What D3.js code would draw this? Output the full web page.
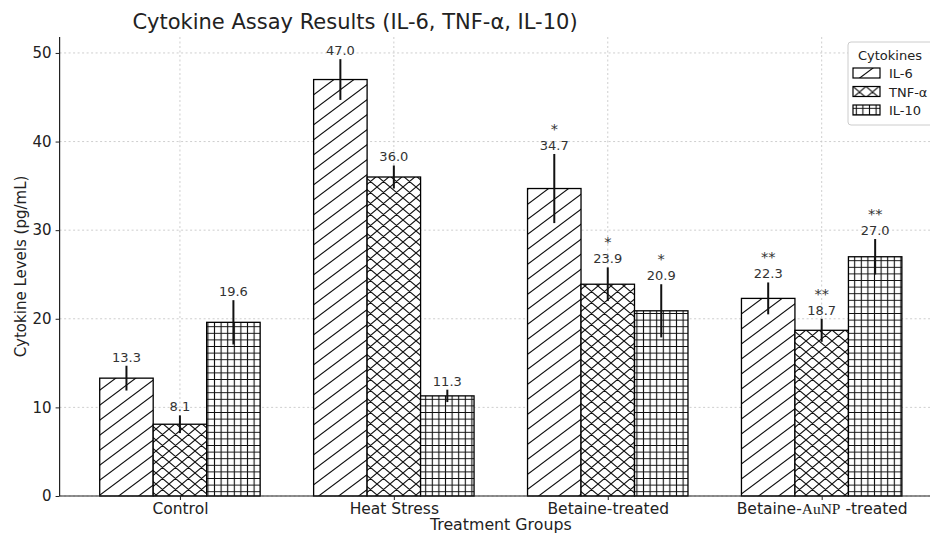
<!DOCTYPE html>
<html>
<head>
<meta charset="utf-8">
<script src="https://cdn.jsdelivr.net/npm/d3@7"></script>
<style>
  body { margin: 0; background: #fff; }
  svg { display: block; font-family: "DejaVu Sans", sans-serif; }
</style>
</head>
<body>
<svg id="chart" width="930" height="533"></svg>
<script>
// ---- Data ----
const categories = ["Control", "Heat Stress", "Betaine-treated", "Betaine-AuNP -treated"];
const seriesNames = ["IL-6", "TNF-α", "IL-10"];
const il6 = [13.3, 47.0, 34.7, 22.3];
const tnf = [8.1, 36.0, 23.9, 18.7];
const il10 = [19.6, 11.3, 20.9, 27.0];
const il6Err = [1.4, 2.3, 3.9, 1.8];
const tnfErr = [1.0, 1.3, 1.9, 1.3];
const il10Err = [2.5, 0.7, 3.0, 2.0];
const il6Sig = ["", "", "*", "**"];
const tnfSig = ["", "", "*", "**"];
const il10Sig = ["", "", "*", "**"];
const yTicks = [0, 10, 20, 30, 40, 50];

const series = [
  { name: seriesNames[0], values: il6, errs: il6Err, sig: il6Sig, pat: "hatch-diag" },
  { name: seriesNames[1], values: tnf, errs: tnfErr, sig: tnfSig, pat: "hatch-x" },
  { name: seriesNames[2], values: il10, errs: il10Err, sig: il10Sig, pat: "hatch-grid" }
];

const svg = d3.select("#chart");
const barW = 0.25;

const x = d3.scaleLinear().domain([-0.5625, 3.5625]).range([59.6, 942]);
const y = d3.scaleLinear().domain([0, 51.8]).range([496, 37]);

// ---- Hatch patterns ----
const defs = svg.append("defs");
const hatchColor = "#111";
function addPattern(id, w, h, d) {
  const p = defs.append("pattern").attr("id", id)
    .attr("patternUnits", "userSpaceOnUse")
    .attr("width", w).attr("height", h);
  p.append("rect").attr("width", w).attr("height", h).attr("fill", "#fff");
  p.append("path").attr("d", d).attr("stroke", hatchColor)
    .attr("stroke-width", 1.1).attr("fill", "none");
}
{
  const w = 20, h = 15;
  addPattern("hatch-diag", w, h,
    `M0,${h} L${w},0 M${-w/2},${h/2} L${w/2},${-h/2} M${w/2},${1.5*h} L${1.5*w},${h/2}`);
}
{
  const w = 13, h = 11;
  addPattern("hatch-x", w, h,
    `M0,${h} L${w},0 M${-w/2},${h/2} L${w/2},${-h/2} M${w/2},${1.5*h} L${1.5*w},${h/2}` +
    `M0,0 L${w},${h} M${-w/2},${h/2} L${w/2},${1.5*h} M${w/2},${-h/2} L${1.5*w},${h/2}`);
}
{
  const w = 6.6, h = 6.6;
  addPattern("hatch-grid", w, h, `M${w/2},0 V${h} M0,${h/2} H${w}`);
}

// ---- Grid ----
const g = svg.append("g");
g.selectAll("line.hgrid").data(yTicks).join("line")
  .attr("x1", x.range()[0]).attr("x2", 930)
  .attr("y1", d => y(d)).attr("y2", d => y(d))
  .attr("stroke", "#c8c8c8").attr("stroke-width", 0.9).attr("stroke-dasharray", "2,2.5");
g.selectAll("line.vgrid").data(categories.map((c, i) => i)).join("line")
  .attr("x1", d => x(d)).attr("x2", d => x(d))
  .attr("y1", y(51.8)).attr("y2", y(0))
  .attr("stroke", "#c8c8c8").attr("stroke-width", 0.9).attr("stroke-dasharray", "2,2.5");

// ---- Bars ----
series.forEach((s, si) => {
  const off = (si - 1) * barW;
  const grp = svg.append("g");
  grp.selectAll("rect").data(s.values).join("rect")
    .attr("x", (d, i) => x(i + off - barW / 2))
    .attr("y", d => y(d))
    .attr("width", (d, i) => x(i + off + barW / 2) - x(i + off - barW / 2))
    .attr("height", d => y(0) - y(d))
    .attr("fill", `url(#${s.pat})`)
    .attr("stroke", "#000").attr("stroke-width", 1.3);
});

// ---- Error bars and labels ----
series.forEach((s, si) => {
  const off = (si - 1) * barW;
  const grp = svg.append("g");
  grp.selectAll("line").data(s.values).join("line")
    .attr("x1", (d, i) => x(i + off)).attr("x2", (d, i) => x(i + off))
    .attr("y1", (d, i) => y(d - s.errs[i])).attr("y2", (d, i) => y(d + s.errs[i]))
    .attr("stroke", "#111").attr("stroke-width", 2);
  grp.selectAll("text.val").data(s.values).join("text")
    .attr("class", "val")
    .attr("x", (d, i) => x(i + off))
    .attr("y", (d, i) => y(d + s.errs[i]) - 4)
    .attr("text-anchor", "middle")
    .attr("font-size", 13).attr("fill", "#333")
    .text(d => d.toFixed(1));
  grp.selectAll("text.sig").data(s.values).join("text")
    .attr("class", "sig")
    .attr("x", (d, i) => x(i + off))
    .attr("y", (d, i) => y(d + s.errs[i]) - 20)
    .attr("text-anchor", "middle")
    .attr("font-size", 14.5).attr("fill", "#333")
    .text((d, i) => s.sig[i]);
});

// ---- Axes ----
const yAxis = svg.append("g").attr("transform", `translate(${x.range()[0]},0)`)
  .call(d3.axisLeft(y).tickValues(yTicks).tickSize(4).tickPadding(4).tickFormat(d3.format("d")));
yAxis.select(".domain").attr("d", `M0,${y(51.8)} V${y(0)}`).attr("stroke", "#222").attr("stroke-width", 1.2);
yAxis.selectAll(".tick line").attr("stroke", "#222");
yAxis.selectAll(".tick text").attr("font-size", 15).attr("fill", "#222").attr("font-family", "DejaVu Sans");

const xAxis = svg.append("g").attr("transform", `translate(0,${y(0)})`)
  .call(d3.axisBottom(x).tickValues([0, 1, 2, 3]).tickSize(4).tickPadding(3).tickFormat(() => ""));
xAxis.select(".domain").attr("d", `M${x.range()[0]},0 H930`).attr("stroke", "#222").attr("stroke-width", 1.2);
xAxis.selectAll(".tick line").attr("stroke", "#222");
xAxis.selectAll(".tick text").each(function(d) {
  const t = d3.select(this).attr("font-size", 15.5).attr("fill", "#222").attr("font-family", "DejaVu Sans");
  const label = categories[d];
  if (label.includes("AuNP")) {
    const parts = label.split("AuNP");
    t.append("tspan").text(parts[0]);
    t.append("tspan").attr("font-family", "Liberation Serif, serif").attr("font-size", 15.5).text("AuNP");
    t.append("tspan").text(parts[1]);
  } else {
    t.text(label);
  }
});

// ---- Titles ----
svg.append("text").attr("x", 355).attr("y", 29).attr("text-anchor", "middle")
  .attr("font-size", 21).attr("fill", "#222").text("Cytokine Assay Results (IL-6, TNF-α, IL-10)");
svg.append("text").attr("x", (x.range()[0] + x.range()[1]) / 2).attr("y", 530).attr("text-anchor", "middle")
  .attr("font-size", 15.8).attr("fill", "#222").text("Treatment Groups");
svg.append("text").attr("transform", `translate(26,${(y(0) + y(51.8)) / 2}) rotate(-90)`)
  .attr("text-anchor", "middle").attr("font-size", 15).attr("fill", "#222").text("Cytokine Levels (pg/mL)");

// ---- Legend ----
const lg = svg.append("g").attr("transform", "translate(848,42)");
lg.append("rect").attr("width", 100).attr("height", 83).attr("rx", 3)
  .attr("fill", "#fff").attr("fill-opacity", 0.9).attr("stroke", "#ccc");
lg.append("text").attr("x", 42).attr("y", 18).attr("text-anchor", "middle")
  .attr("font-size", 13).attr("fill", "#222").text("Cytokines");
const items = lg.selectAll("g.item").data(series).join("g")
  .attr("transform", (d, i) => `translate(5,${26 + i * 18.5})`);
items.append("rect").attr("width", 27).attr("height", 10)
  .attr("fill", d => `url(#${d.pat})`).attr("stroke", "#000").attr("stroke-width", 1.2);
items.append("text").attr("x", 36).attr("y", 10).attr("font-size", 13).attr("fill", "#222").text(d => d.name);
</script>
</body>
</html>
